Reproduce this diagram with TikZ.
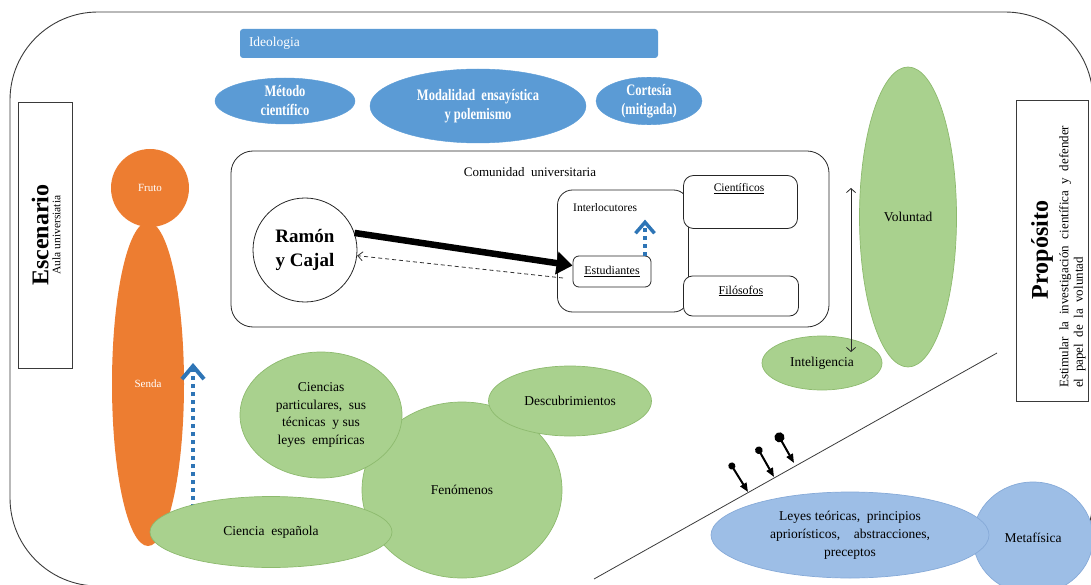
\documentclass[tikz,border=0pt]{standalone}
\usepackage{fontspec}
\setmainfont{Liberation Serif}
\newfontfamily\narrowserif{Liberation Serif}[FakeStretch=0.78]
\usetikzlibrary{arrows.meta,shapes.geometric}

\definecolor{ideoblue}{HTML}{5B9BD5}
\definecolor{arrowblue}{HTML}{2E75B6}
\definecolor{fruitorange}{HTML}{ED7D31}
\definecolor{leafgreen}{HTML}{A9D18E}
\definecolor{leafedge}{HTML}{8DBA6E}
\definecolor{paleblue}{HTML}{9DBEE6}
\definecolor{paleedge}{HTML}{86AAD8}
\definecolor{framegray}{HTML}{3A3A3A}

\newcommand\fs[2]{\fontsize{#1}{#2}\selectfont}

\tikzset{
  topoval/.style={ellipse, fill=ideoblue, draw=ideoblue, text=white,
    font=\narrowserif\bfseries\fs{16}{19}, align=center, inner sep=0pt},
  greenoval/.style={ellipse, fill=leafgreen, draw=leafedge, line width=0.7pt,
    align=center, inner sep=0pt, font=\fs{13.5}{17.5}},
  blueoval/.style={ellipse, fill=paleblue, draw=paleedge, line width=0.7pt,
    align=center, inner sep=0pt, font=\fs{13.5}{18}},
  orangeblob/.style={ellipse, fill=fruitorange, draw=none, text=white,
    inner sep=0pt, font=\fs{11}{13}},
  sidebox/.style={draw=framegray, line width=0.8pt, rectangle, inner sep=0pt},
  roundbox/.style={draw=black!85, line width=0.8pt, rectangle,
    rounded corners=#1, inner sep=0pt},
  roundbox/.default=10pt,
  plain/.style={inner sep=0pt, font=\fs{13}{15}},
  bluedots/.style={draw=arrowblue, line width=4pt, dash pattern=on 4pt off 4pt,
    -{Straight Barb[length=13pt,width=22pt]}},
  pinarrow/.style={line width=2pt, {Circle[length=#1]}-{Triangle[length=9pt,width=7pt]}},
}

\begin{document}
\begin{tikzpicture}[x=1pt,y=-1pt]
\useasboundingbox (0,0) rectangle (1091,585);
\clip (0,0) rectangle (1091,585);

% outer frame
\draw[framegray, line width=0.9pt, rounded corners=88pt] (10,12) rectangle (1093,586);

% ideology bar and the three blue ovals
\node[fill=ideoblue, rounded corners=3pt, minimum width=418pt, minimum height=29pt,
      text width=400pt, align=left, text=white, font=\fs{13.5}{15}] (ideo) at (449,43.5) {Ideologia};
\node[topoval, minimum width=140pt, minimum height=46pt] (metodo) at (285,101) {Método\\científico};
\node[topoval, minimum width=216pt, minimum height=74pt] (modal) at (478,106) {Modalidad\ \ ensayística\\y polemismo};
\node[topoval, minimum width=106pt, minimum height=46pt] (cortesia) at (649,101) {Cortesía\\(mitigada)};

% side panels
\node[sidebox, minimum width=54pt, minimum height=266pt] (escen) at (45,235) {};
\node[rotate=90, align=center, inner sep=0pt] (escentxt) at (46,235)
  {\fs{24}{22}\bfseries Escenario\\\fs{11.5}{12}\selectfont Aula universiatia};
\node[sidebox, minimum width=72pt, minimum height=301pt] (prop) at (1052,250.5) {};
\node[rotate=90, inner sep=0pt, font=\fs{24}{24}\bfseries] (proptitle) at (1042,250) {Propósito};
\node[rotate=90, anchor=north west, align=left, inner sep=0pt, font=\fs{13}{14.5}] (proptxt) at (1059,388)
  {Estimular\ \ la\ \ investigación\ \ científica\ \ y\ \ defender\\el\ \ papel\ \ de\ \ la\ \ voluntad};

% university community
\node[roundbox=22pt, minimum width=598pt, minimum height=176pt] (comun) at (530,239) {};
\node[plain] (comuntxt) at (530,172) {Comunidad\ \ universitaria};
\node[roundbox=15pt, minimum width=131pt, minimum height=122pt] (interl) at (623,251) {};
\node[plain, anchor=west, font=\fs{11.5}{13}] (interltxt) at (573,208) {Interlocutores};
\node[roundbox=6pt, minimum width=78pt, minimum height=31pt, font=\fs{12}{14}] (estud) at (612,271.5) {\underline{Estudiantes}};
\node[roundbox=10pt, minimum width=114pt, minimum height=53pt, fill=white] (cient) at (740.5,202) {};
\node[plain, font=\fs{11.5}{13}] (cienttxt) at (739,189) {\underline{Científicos}};
\node[roundbox=9pt, minimum width=115pt, minimum height=40pt, fill=white] (filos) at (741,296) {};
\node[plain, font=\fs{12}{14}] (filostxt) at (741,291) {\underline{Filósofos}};
\node[circle, draw=black!85, line width=0.8pt, minimum size=104pt, inner sep=0pt, align=center,
      font=\fs{19}{24}\bfseries] (ramon) at (305,250) {Ramón\\y Cajal};

% speaker and students
\coordinate (dstart) at (563,278);
\draw[line width=6.5pt, -{Triangle[length=16pt,width=22pt]}] (ramon.19) -- ([yshift=6pt]estud.west);
\draw[black!80, line width=0.8pt, dash pattern=on 4pt off 3pt, -{Straight Barb[length=5pt,width=9pt]}] (dstart) -- (ramon);
\draw[bluedots, line width=3.5pt, -{Straight Barb[length=11pt,width=19pt]}] ([xshift=33pt]estud.north) -- ++(0,-36);

% path and fruit
\node[orangeblob, minimum width=72pt, minimum height=324pt] (senda) at (148,384) {Senda};
\node[orangeblob, circle, minimum size=78pt] (fruto) at (150,188) {Fruto};
\coordinate (sendafoot) at (193,508);
\draw[bluedots] (sendafoot) -- (193,363);

% sciences and phenomena
\node[greenoval, minimum width=200pt, minimum height=176pt] (fenom) at (462,490) {Fenómenos};
\node[greenoval, minimum width=162pt, minimum height=126pt] (ciencias) at (321,415)
  {Ciencias\\particulares,\ \ sus\\técnicas\ \ y sus\\leyes\ \ empíricas};
\node[greenoval, minimum width=163pt, minimum height=70pt] (descub) at (570,401) {Descubrimientos};
\node[greenoval, minimum width=242pt, minimum height=71pt] (cespan) at (271,532) {Ciencia\ \ española};

% will and intelligence
\node[greenoval, minimum width=97pt, minimum height=300pt] (volun) at (908,217) {Voluntad};
\node[greenoval, minimum width=120pt, minimum height=54pt] (intel) at (822,363) {Inteligencia};
\coordinate (vtop) at (851,188);
\coordinate (vbot) at (851,352);
\draw[black!85, line width=0.8pt, {Straight Barb[length=4pt,width=9pt]}-{Straight Barb[length=4pt,width=9pt]}] (vtop) -- (vbot);

% dividing line and the three pins
\coordinate (lineA) at (594,579);
\coordinate (lineB) at (997,353);
\draw[framegray, line width=0.8pt] (lineA) -- (lineB);
\coordinate (p1s) at (730,463); \coordinate (p1e) at (748,492);
\coordinate (p2s) at (757,447); \coordinate (p2e) at (774,477);
\coordinate (p3s) at (777,433); \coordinate (p3e) at (794,463);
\draw[pinarrow=7pt] (p1s) -- (p1e);
\draw[pinarrow=7.5pt] (p2s) -- (p2e);
\draw[pinarrow=10pt] (p3s) -- (p3e);

% theory and metaphysics
\node[blueoval, minimum width=120pt, minimum height=112pt] (metaf) at (1033,538) {Metafísica};
\node[blueoval, minimum width=278pt, minimum height=86pt] (leyes) at (850,535)
  {Leyes teóricas,\ \ principios\\apriorísticos,\quad abstracciones,\\preceptos};
\end{tikzpicture}
\end{document}
